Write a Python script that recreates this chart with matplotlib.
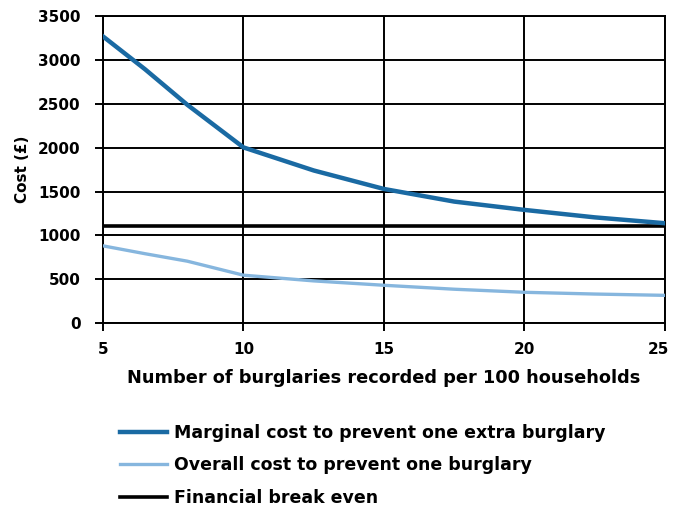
import matplotlib
matplotlib.use("Agg")
import matplotlib.pyplot as plt
import matplotlib.transforms as mtransforms

# values
burglaries = [5, 6.5, 8, 10, 12.5, 15, 17.5, 20, 22.5, 25]
marginal_cost = [3270, 2894, 2490, 2003, 1740, 1529, 1385, 1290, 1205, 1138]
overall_cost = [880, 790, 705, 545, 480, 430, 385, 350, 330, 315]
break_even = 1105

x_ticks = [5, 10, 15, 20, 25]
y_ticks = [0, 500, 1000, 1500, 2000, 2500, 3000, 3500]

plt.rcParams['font.family'] = ['DejaVu Sans']
plt.rcParams['font.weight'] = 'bold'

fig = plt.figure(figsize=(6.73, 5.07), dpi=100)
ax = fig.add_axes([0.153, 0.363, 0.835, 0.605])

l1, = ax.plot(burglaries, marginal_cost, color='#1a6aa3', lw=3.2,
              label='Marginal cost to prevent one extra burglary', zorder=3)
l2, = ax.plot(burglaries, overall_cost, color='#86b6de', lw=2.4,
              label='Overall cost to prevent one burglary', zorder=3)
l3 = ax.axhline(break_even, color='black', lw=2.6,
                label='Financial break even', zorder=2)

ax.set_xlim(5, 25)
ax.set_ylim(0, 3500)
ax.set_xticks(x_ticks)
ax.set_yticks(y_ticks)
ax.grid(True, color='black', lw=1.4)
ax.set_axisbelow(True)
for s in ax.spines.values():
    s.set_linewidth(1.4)
ax.tick_params(direction='out', length=6, width=1.4, labelsize=11, pad=8)
ax.tick_params(axis='y', pad=10)
for lab in ax.get_xticklabels() + ax.get_yticklabels():
    lab.set_fontweight('bold')
# nudge the last x label so it stays inside the figure
last = ax.get_xticklabels()[-1]
last.set_transform(last.get_transform() +
                   mtransforms.ScaledTranslation(-6 / 100, 0, fig.dpi_scale_trans))

ax.set_xlabel('Number of burglaries recorded per 100 households',
              fontsize=12.8, fontweight='bold', labelpad=8)
ax.set_ylabel('Cost (£)', fontsize=11, fontweight='bold', labelpad=6)

fig.legend(handles=[l1, l2, l3], loc='upper left',
           bbox_to_anchor=(0.168, 0.178), frameon=False,
           prop={'size': 12.5, 'weight': 'bold'}, handlelength=2.7,
           handletextpad=0.4, labelspacing=0.85, borderaxespad=0)

fig.savefig('out.png', dpi=100)
